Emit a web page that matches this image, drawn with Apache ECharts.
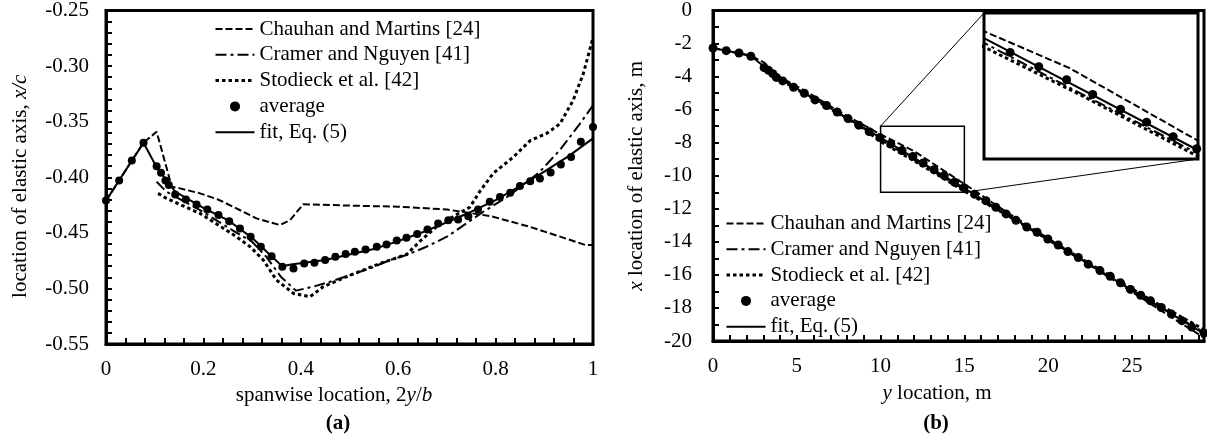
<!DOCTYPE html>
<html>
<head>
<meta charset="utf-8">
<script src="https://cdn.jsdelivr.net/npm/echarts@6/dist/echarts.min.js"></script>
<style>
  html, body { margin: 0; padding: 0; background: #fff; }
  #chart { width: 1207px; height: 444px; }
</style>
</head>
<body>
<div id="chart"></div>
<script>
// ---------- panel (a): elastic axis position in chord fractions ----------
const avgSpan = [0, 0.027, 0.053, 0.077, 0.104, 0.113, 0.122, 0.129, 0.142, 0.164, 0.186, 0.208, 0.231, 0.253, 0.275, 0.297, 0.318, 0.340, 0.362, 0.385, 0.407, 0.428, 0.450, 0.471, 0.492, 0.511, 0.533, 0.556, 0.576, 0.597, 0.617, 0.639, 0.660, 0.682, 0.703, 0.723, 0.744, 0.764, 0.788, 0.809, 0.830, 0.850, 0.871, 0.891, 0.913, 0.934, 0.955, 0.975, 1.0];
const avgXc = [-0.421, -0.403, -0.385, -0.369, -0.390, -0.396, -0.403, -0.407, -0.4155, -0.420, -0.4245, -0.429, -0.434, -0.4395, -0.446, -0.4536, -0.4626, -0.471, -0.4806, -0.482, -0.4775, -0.477, -0.4745, -0.4716, -0.469, -0.467, -0.465, -0.4626, -0.4605, -0.457, -0.4545, -0.451, -0.447, -0.4416, -0.4386, -0.438, -0.435, -0.429, -0.422, -0.4177, -0.414, -0.4078, -0.4036, -0.4012, -0.3958, -0.3886, -0.3817, -0.368, -0.3548];

const fitSpan = [0, 0.077, 0.104, 0.142, 0.2, 0.25, 0.3, 0.33, 0.362, 0.38, 0.45, 0.5, 0.55, 0.6, 0.65, 0.7, 0.75, 0.8, 0.85, 0.9, 0.95, 1.0];
const fitXc = [-0.421, -0.369, -0.391, -0.413, -0.4275, -0.4385, -0.4545, -0.467, -0.480, -0.4785, -0.4745, -0.4695, -0.4645, -0.4575, -0.4495, -0.4405, -0.431, -0.4205, -0.408, -0.395, -0.381, -0.365];

const chauhanSpan = [0, 0.027, 0.053, 0.077, 0.104, 0.135, 0.152, 0.193, 0.23, 0.261, 0.309, 0.357, 0.378, 0.405, 0.5, 0.6, 0.7, 0.79, 0.87, 0.985, 1.0];
const chauhanXc = [-0.421, -0.403, -0.385, -0.369, -0.359, -0.4085, -0.410, -0.4145, -0.420, -0.4265, -0.437, -0.443, -0.4385, -0.4243, -0.4255, -0.4265, -0.429, -0.435, -0.4445, -0.461, -0.461];

const cramerSpan = [0.104, 0.124, 0.193, 0.261, 0.3, 0.33, 0.36, 0.39, 0.425, 0.46, 0.542, 0.583, 0.617, 0.658, 0.7, 0.74, 0.775, 0.83, 0.891, 0.932, 0.973, 1.0];
const cramerXc = [-0.404, -0.413, -0.4296, -0.448, -0.458, -0.472, -0.490, -0.502, -0.4985, -0.494, -0.482, -0.4745, -0.470, -0.4625, -0.4535, -0.4415, -0.431, -0.416, -0.395, -0.3755, -0.352, -0.3353];

const stodieckSpan = [0.107, 0.124, 0.193, 0.268, 0.296, 0.323, 0.35, 0.385, 0.419, 0.446, 0.494, 0.528, 0.563, 0.617, 0.645, 0.679, 0.72, 0.747, 0.768, 0.795, 0.836, 0.871, 0.905, 0.932, 0.959, 0.98, 1.0];
const stodieckXc = [-0.4145, -0.419, -0.4325, -0.4535, -0.4625, -0.4745, -0.4925, -0.5045, -0.5075, -0.4985, -0.4895, -0.4835, -0.4775, -0.4695, -0.4575, -0.4445, -0.4335, -0.427, -0.4125, -0.3965, -0.382, -0.367, -0.3605, -0.352, -0.331, -0.307, -0.2745];

// ---------- panel (b): elastic axis position in metres ----------
const avgYm = [0, 0.79, 1.55, 2.26, 3.05, 3.31, 3.57, 3.78, 4.16, 4.81, 5.45, 6.09, 6.77, 7.41, 8.06, 8.70, 9.32, 9.96, 10.61, 11.28, 11.93, 12.54, 13.19, 13.80, 14.42, 14.97, 15.62, 16.29, 16.88, 17.49, 18.08, 18.72, 19.34, 19.98, 20.60, 21.18, 21.80, 22.39, 23.09, 23.70, 24.32, 24.91, 25.52, 26.11, 26.75, 27.36, 27.98, 28.57, 29.3];
const avgXm = [-2.27, -2.43, -2.57, -2.77, -3.46, -3.62, -3.82, -4.05, -4.26, -4.65, -5.01, -5.41, -5.75, -6.14, -6.54, -6.94, -7.33, -7.69, -8.08, -8.47, -8.83, -9.23, -9.64, -9.99, -10.39, -10.72, -11.12, -11.51, -11.91, -12.31, -12.70, -13.10, -13.42, -13.83, -14.19, -14.59, -14.95, -15.35, -15.74, -16.08, -16.48, -16.88, -17.23, -17.57, -17.97, -18.37, -18.77, -19.16, -19.52];

const fitYm = [0, 2.26, 3.05, 5, 10, 15, 20, 25, 29.3];
const fitXm = [-2.27, -2.74, -3.40, -4.72, -7.69, -10.76, -13.85, -16.92, -19.55];

const chauhanYm = [0, 2.26, 3.05, 3.95, 5.65, 7.5, 10, 12, 15, 17.5, 20, 22.5, 25, 27.5, 29.3];
const chauhanXm = [-2.27, -2.74, -3.15, -4.0, -4.95, -6.1, -7.50, -8.51, -10.50, -12.18, -13.79, -15.40, -17.03, -18.65, -19.80];

const cramerYm = [3.05, 4, 5.86, 8.8, 10, 12.5, 15, 17.6, 20.5, 23.4, 26.4, 29.3];
const cramerXm = [-3.51, -4.12, -5.25, -7.0, -7.82, -9.35, -10.85, -12.44, -14.20, -15.98, -17.78, -19.47];

const stodieckYm = [3.13, 4, 5.86, 8.8, 10, 12.3, 15, 17.6, 20.5, 23.4, 26.4, 29.3];
const stodieckXm = [-3.6, -4.18, -5.27, -7.03, -7.93, -9.27, -10.93, -12.42, -14.14, -15.88, -17.68, -19.31];

// enlarged window shown in the inset of panel (b)
const zoomYm = [10, 15];
const zoomXm = [-11, -7];

const names = ['Chauhan and Martins [24]', 'Cramer and Nguyen [41]', 'Stodieck et al. [42]', 'average', 'fit, Eq. (5)'];

// ---------- styling ----------
const FONT = "'Liberation Serif', 'Times New Roman', serif";
const INK = '#000';
const dashStyles = {
  'Chauhan and Martins [24]': { type: [7, 3], width: 2 },
  'Cramer and Nguyen [41]': { type: [11, 4, 3, 4], width: 2 },
  'Stodieck et al. [42]': { type: [3.5, 3], width: 3 },
  'fit, Eq. (5)': { type: 'solid', width: 2 }
};

const zip = (xs, ys) => xs.map((x, i) => [x, ys[i]]);

function lineSeries(name, xs, ys, axis, extra) {
  const st = dashStyles[name];
  return Object.assign({
    name, type: 'line', xAxisIndex: axis, yAxisIndex: axis,
    data: zip(xs, ys), symbol: 'none', clip: true, z: 2,
    lineStyle: { color: INK, width: st.width, type: st.type, cap: 'butt' },
    itemStyle: { color: INK }
  }, extra || {});
}
function dotSeries(xs, ys, axis, size) {
  return {
    name: 'average', type: 'scatter', xAxisIndex: axis, yAxisIndex: axis,
    data: zip(xs, ys), symbol: 'circle', symbolSize: size, clip: true, z: 3,
    itemStyle: { color: INK, opacity: 1 }
  };
}

const tickCfg = () => ({ show: true, inside: true, length: 6, lineStyle: { color: INK, width: 2 } });
const minorCfg = (n) => ({ show: true, splitNumber: n, length: 6, lineStyle: { color: INK, width: 2 } });
const lineCfg = () => ({ show: true, onZero: false, lineStyle: { color: INK, width: 3 } });
const labelCfg = { color: INK, fontFamily: FONT, fontSize: 21 };
const nameStyle = (pad) => ({
  color: INK, fontFamily: FONT, fontSize: 21, padding: pad,
  rich: { i: { fontStyle: 'italic', fontFamily: FONT, fontSize: 21, color: INK } }
});

function legendData() {
  return names.map(n => {
    if (n === 'average') return { name: n, itemStyle: { color: INK, opacity: 1 } };
    const st = dashStyles[n];
    return { name: n, itemStyle: { opacity: 0 }, lineStyle: { color: INK, width: st.width, type: st.type, opacity: 1 } };
  });
}
const legendBase = {
  orient: 'vertical', itemWidth: 39, itemHeight: 10, itemGap: 4.8, padding: 0,
  selectedMode: false, textStyle: { color: INK, fontFamily: FONT, fontSize: 21 }
};

const chart = echarts.init(document.getElementById('chart'), null, { renderer: 'canvas' });

const option = {
  animation: false,
  backgroundColor: '#fff',
  grid: [
    { left: 106, top: 10, width: 487, height: 334, show: true, borderColor: INK, borderWidth: 3, backgroundColor: 'transparent', z: 0 },
    { left: 713, top: 5, width: 491, height: 336, show: true, borderColor: INK, borderWidth: 3, backgroundColor: 'transparent', z: 0 },
    { left: 984, top: 13, width: 214, height: 146, show: true, borderColor: INK, borderWidth: 3, backgroundColor: '#fff', z: 0 }
  ],
  xAxis: [
    {
      gridIndex: 0, type: 'value', min: 0, max: 1, interval: 0.2, z: 5,
      axisLine: lineCfg(), axisTick: tickCfg(), minorTick: minorCfg(5),
      splitLine: { show: false }, minorSplitLine: { show: false },
      axisLabel: Object.assign({ margin: 15 }, labelCfg),
      name: 'spanwise location, 2{i|y}/{i|b}', nameLocation: 'middle', nameGap: 38,
      nameTextStyle: nameStyle([0, 31, 0, 0])
    },
    {
      // one tick per metre, labelled every 5 m
      gridIndex: 1, type: 'value', min: 0, max: 29.3, interval: 1, z: 5,
      axisLine: lineCfg(), axisTick: tickCfg(),
      splitLine: { show: false }, minorSplitLine: { show: false },
      axisLabel: Object.assign({
        margin: 15, showMaxLabel: false,
        formatter: v => (Math.abs(v % 5) < 1e-9 ? String(v) : '')
      }, labelCfg),
      name: '{i|y} location, m', nameLocation: 'middle', nameGap: 42,
      nameTextStyle: nameStyle([0, 43, 0, 0])
    },
    { gridIndex: 2, type: 'value', min: zoomYm[0], max: zoomYm[1], show: false, splitLine: { show: false } }
  ],
  yAxis: [
    {
      gridIndex: 0, type: 'value', min: -0.55, max: -0.25, interval: 0.05, z: 5,
      axisLine: lineCfg(), axisTick: tickCfg(), minorTick: minorCfg(5),
      splitLine: { show: false }, minorSplitLine: { show: false },
      axisLabel: Object.assign({ margin: 17, formatter: v => v.toFixed(2) }, labelCfg),
      name: 'location of elastic axis, {i|x/c}', nameLocation: 'middle', nameGap: 75,
      nameTextStyle: nameStyle([0, 18, 0, 0])
    },
    {
      gridIndex: 1, type: 'value', min: -20, max: 0, interval: 2, z: 5,
      axisLine: lineCfg(), axisTick: tickCfg(), minorTick: minorCfg(2),
      splitLine: { show: false }, minorSplitLine: { show: false },
      axisLabel: Object.assign({ margin: 21 }, labelCfg),
      name: '{i|x} location of elastic axis, m', nameLocation: 'middle', nameGap: 66,
      nameTextStyle: nameStyle([0, 0, 0, 0])
    },
    { gridIndex: 2, type: 'value', min: zoomXm[0], max: zoomXm[1], show: false, splitLine: { show: false } }
  ],
  legend: [
    Object.assign({ left: 214, top: 18.5, data: legendData() }, legendBase),
    Object.assign({ left: 725, top: 213, data: legendData() }, legendBase)
  ],
  series: [
    // panel (a)
    lineSeries(names[0], chauhanSpan, chauhanXc, 0),
    lineSeries(names[1], cramerSpan, cramerXc, 0),
    lineSeries(names[2], stodieckSpan, stodieckXc, 0),
    dotSeries(avgSpan, avgXc, 0, 8),
    lineSeries(names[4], fitSpan, fitXc, 0),
    // panel (b)
    lineSeries(names[0], chauhanYm, chauhanXm, 1),
    lineSeries(names[1], cramerYm, cramerXm, 1),
    lineSeries(names[2], stodieckYm, stodieckXm, 1),
    dotSeries(avgYm, avgXm, 1, 9),
    lineSeries(names[4], fitYm, fitXm, 1, {
      markArea: {
        silent: true,
        label: { show: false },
        itemStyle: { color: 'rgba(0,0,0,0)', borderColor: INK, borderWidth: 1.5 },
        data: [[{ coord: [zoomYm[0], zoomXm[1]] }, { coord: [zoomYm[1], zoomXm[0]] }]]
      }
    }),
    // inset of panel (b)
    lineSeries(names[0], chauhanYm, chauhanXm, 2),
    lineSeries(names[1], cramerYm, cramerXm, 2),
    lineSeries(names[2], stodieckYm, stodieckXm, 2),
    dotSeries(avgYm, avgXm, 2, 9),
    lineSeries(names[4], fitYm, fitXm, 2)
  ],
  graphic: [
    { id: 'tagA', type: 'text', x: 338, y: 424, style: { text: '(a)', font: 'bold 21px ' + FONT, fill: INK, align: 'center', verticalAlign: 'middle' } },
    { id: 'tagB', type: 'text', x: 936, y: 424, style: { text: '(b)', font: 'bold 21px ' + FONT, fill: INK, align: 'center', verticalAlign: 'middle' } }
  ]
};

chart.setOption(option);

// connector lines between the marked window and the inset frame
const winTL = chart.convertToPixel({ gridIndex: 1 }, [zoomYm[0], zoomXm[1]]);
const winBR = chart.convertToPixel({ gridIndex: 1 }, [zoomYm[1], zoomXm[0]]);
const insTL = chart.convertToPixel({ gridIndex: 2 }, [zoomYm[0], zoomXm[1]]);
const insBR = chart.convertToPixel({ gridIndex: 2 }, [zoomYm[1], zoomXm[0]]);
chart.setOption({
  graphic: [
    { id: 'linkTop', type: 'line', shape: { x1: winTL[0], y1: winTL[1], x2: insTL[0], y2: insTL[1] }, style: { stroke: INK, lineWidth: 1 }, z: 10 },
    { id: 'linkBottom', type: 'line', shape: { x1: winBR[0], y1: winBR[1], x2: insBR[0], y2: insBR[1] }, style: { stroke: INK, lineWidth: 1 }, z: 10 }
  ]
});
</script>
</body>
</html>
